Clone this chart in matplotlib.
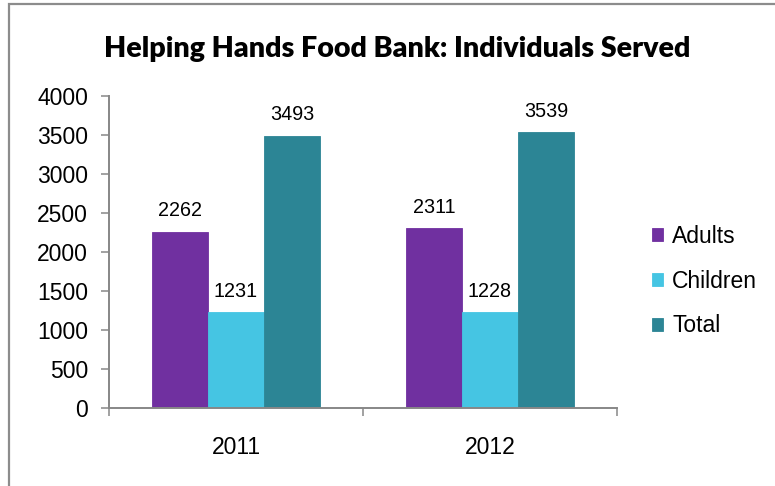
import matplotlib.pyplot as plt
import numpy as np
from matplotlib.patches import Rectangle

years = ["2011", "2012"]
series = ["Adults", "Children", "Total"]
adults = [2262, 2311]
children = [1231, 1228]
total = [3493, 3539]
colors = ["#7030A0", "#45C5E3", "#2C8595"]

AXIS_GREY = "#878787"
FONT = "Liberation Sans"

fig = plt.figure(figsize=(7.75, 4.86), dpi=100)
ax = fig.add_axes([0.1406, 0.1605, 0.6555, 0.642])

x = np.arange(len(years))
width = 0.22
offsets = [-width, 0, width]
for vals, name, color, off in zip([adults, children, total], series, colors, offsets):
    bars = ax.bar(x + off, vals, width, color=color, label=name,
                  edgecolor=color, linewidth=0.6, zorder=2)
    for b, v in zip(bars, vals):
        ax.annotate(str(v), (b.get_x() + b.get_width() / 2, v),
                    xytext=(0, 8), textcoords="offset points",
                    ha="center", va="bottom", fontsize=14.2, family=FONT)

ax.set_xlim(-0.5, len(years) - 0.5)
ax.set_ylim(0, 4000)
ax.set_yticks(np.arange(0, 4001, 500))
ax.tick_params(axis="y", labelsize=16.5, length=6, width=1.1, color=AXIS_GREY, pad=9)
for lab in ax.get_yticklabels():
    lab.set_family(FONT)

# category boundaries carry the tick marks, names sit in between
ax.set_xticks([-0.5, 0.5, 1.5])
ax.set_xticklabels([])
ax.set_xticks(x, minor=True)
ax.set_xticklabels(years, minor=True, fontsize=16.5, family=FONT)
ax.tick_params(axis="x", which="major", length=6, width=1.1, color=AXIS_GREY)
ax.tick_params(axis="x", which="minor", length=0, pad=20)

for side in ("top", "right"):
    ax.spines[side].set_visible(False)
for side in ("left", "bottom"):
    ax.spines[side].set_color(AXIS_GREY)
    ax.spines[side].set_linewidth(1.4)

fig.text(0.512, 0.9, "Helping Hands Food Bank: Individuals Served",
         ha="center", va="center", fontsize=20.6, fontweight="heavy", family="Lato")

leg = fig.legend(loc="upper left", bbox_to_anchor=(0.829, 0.556), frameon=False,
                 prop={"family": FONT, "size": 16.5}, handlelength=0.5, handleheight=0.5,
                 handletextpad=0.4, labelspacing=0.95, borderaxespad=0)

fig.patches.append(Rectangle((0.0116, -0.2), 1.2, 1.1918, transform=fig.transFigure,
                             fill=False, edgecolor="#8c8c8c", linewidth=1.6))

fig.savefig("out.png", dpi=100)
